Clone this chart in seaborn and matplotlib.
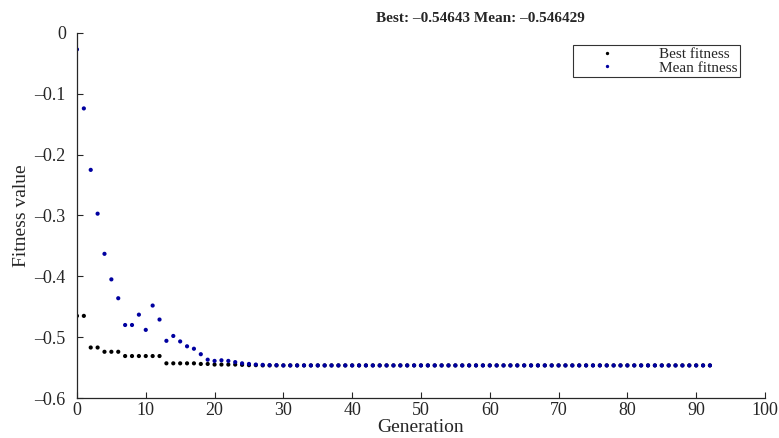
import pandas as pd
import matplotlib
matplotlib.use("Agg")
import matplotlib.pyplot as plt
import seaborn as sns

# valores (ga de MATLAB)
GENERATIONS = list(range(93))

BEST_HEAD = [-0.465, -0.465, -0.517, -0.517, -0.524, -0.524, -0.524,
             -0.531, -0.531, -0.531, -0.531, -0.531, -0.531,
             -0.543, -0.543, -0.543, -0.543, -0.543, -0.544, -0.544,
             -0.545, -0.545, -0.545, -0.545, -0.5455, -0.546, -0.546]
BEST_TAIL = [-0.54643] * (93 - len(BEST_HEAD))
BEST_FITNESS = BEST_HEAD + BEST_TAIL

MEAN_HEAD = [-0.027, -0.124, -0.225, -0.297, -0.363, -0.405, -0.436,
             -0.480, -0.480, -0.463, -0.488, -0.448, -0.471,
             -0.506, -0.498, -0.507, -0.515, -0.519, -0.528, -0.537,
             -0.539, -0.538, -0.539, -0.541, -0.543, -0.544, -0.545,
             -0.5455, -0.546, -0.546]
MEAN_TAIL = [-0.546429] * (93 - len(MEAN_HEAD))
MEAN_FITNESS = MEAN_HEAD + MEAN_TAIL

X_TICKS = [0, 10, 20, 30, 40, 50, 60, 70, 80, 90, 100]
Y_TICKS = [0, -0.1, -0.2, -0.3, -0.4, -0.5, -0.6]
Y_TICK_LABELS = ["0", "\u20130.1", "\u20130.2", "\u20130.3", "\u20130.4", "\u20130.5", "\u20130.6"]

TITLE = "Best: \u20130.54643 Mean: \u20130.546429"


def setup_style():
    sns.set_theme(style="ticks")
    plt.rcParams.update({
        "font.family": ["Liberation Serif", "DejaVu Serif"],
        "font.size": 13,
        "xtick.labelsize": 13,
        "ytick.labelsize": 13,
        "xtick.direction": "in",
        "ytick.direction": "in",
        "axes.edgecolor": "#262626",
        "axes.linewidth": 0.9,
    })


def main():
    setup_style()

    df = pd.DataFrame({
        "Generation": GENERATIONS * 2,
        "value": BEST_FITNESS + MEAN_FITNESS,
        "serie": ["Best fitness"] * 93 + ["Mean fitness"] * 93,
    })

    fig = plt.figure(figsize=(7.79, 4.38), dpi=100)
    ax = fig.add_axes([0.0988, 0.0913, 0.8832, 0.8334])

    sns.scatterplot(
        data=df, x="Generation", y="value", hue="serie",
        palette={"Best fitness": "black", "Mean fitness": "#0000a0"},
        s=9, marker="o", edgecolor="none", ax=ax,
    )

    ax.set_xlim(0, 100)
    ax.set_ylim(-0.6, 0)
    ax.set_xticks(X_TICKS)
    ax.set_yticks(Y_TICKS)
    ax.set_yticklabels(Y_TICK_LABELS)
    ax.set_xlabel("Generation", fontsize=14, labelpad=0)
    ax.set_ylabel("Fitness value", fontsize=14, labelpad=3)
    ax.set_title(TITLE, fontweight="bold", fontsize=11, x=0.587, pad=8)
    sns.despine(ax=ax)
    ax.tick_params(axis="x", length=4, width=0.8, pad=3)
    ax.tick_params(axis="y", length=4, width=0.8, pad=8)

    leg = ax.legend(loc="upper right", bbox_to_anchor=(0.964, 0.967),
                    frameon=True, fancybox=False, edgecolor="black",
                    fontsize=11, markerscale=0.8, borderpad=0.15,
                    handlelength=4.2, handletextpad=1.3, borderaxespad=0,
                    labelspacing=0.0)
    leg.get_frame().set_linewidth(0.8)

    fig.savefig("out.png", dpi=100)
    plt.close(fig)


if __name__ == "__main__":
    main()
